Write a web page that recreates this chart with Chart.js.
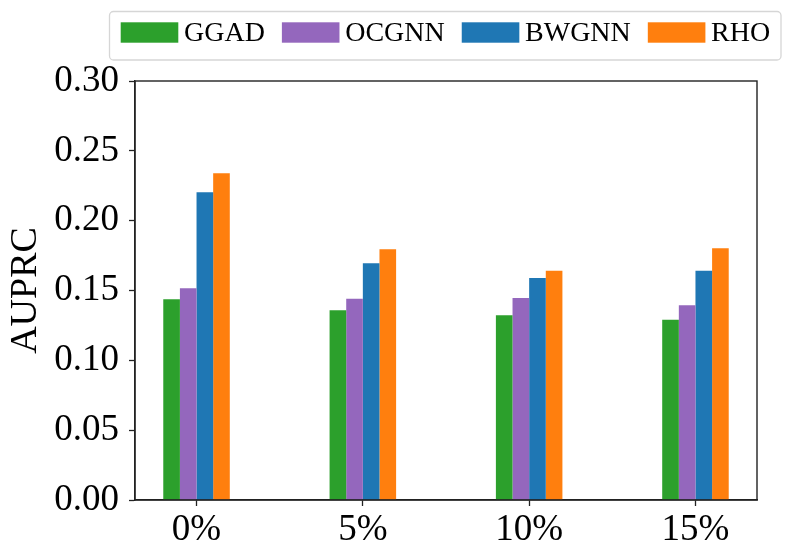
<!DOCTYPE html>
<html>
<head>
<meta charset="utf-8">
<script src="https://cdn.jsdelivr.net/npm/chart.js@4"></script>
<style>
  html, body { margin: 0; padding: 0; background: #fff; }
  #wrap { width: 794px; height: 559px; }
</style>
</head>
<body>
<div id="wrap"><canvas id="chart" width="794" height="559"></canvas></div>
<script>
const categories = ["0%", "5%", "10%", "15%"];
const ggad  = [0.1437, 0.1358, 0.1322, 0.1291];
const ocgnn = [0.1516, 0.1441, 0.1446, 0.1394];
const bwgnn = [0.2203, 0.1695, 0.1589, 0.1642];
const rho   = [0.2339, 0.1795, 0.1642, 0.1802];
const yTicks = [0, 0.05, 0.10, 0.15, 0.20, 0.25, 0.30];

const serif = "'Liberation Serif', 'Times New Roman', serif";

const series = [
  { label: "GGAD",  values: ggad,  color: "#2ca02c" },
  { label: "OCGNN", values: ocgnn, color: "#9467bd" },
  { label: "BWGNN", values: bwgnn, color: "#1f77b4" },
  { label: "RHO",   values: rho,   color: "#ff7f0e" },
];

// frame around the plot, like matplotlib spines
const frame = {
  id: "frame",
  afterDatasetsDraw(chart) {
    const { ctx, chartArea: a } = chart;
    ctx.save();
    ctx.strokeStyle = "#222";
    ctx.lineWidth = 1.4;
    ctx.strokeRect(a.left, a.top, a.right - a.left, a.bottom - a.top);
    ctx.restore();
  },
};

// boxed legend sitting above the plot
const boxLegend = {
  id: "boxLegend",
  afterDraw(chart) {
    const ctx = chart.ctx;
    ctx.save();
    ctx.strokeStyle = "#d6d6d6";
    ctx.lineWidth = 1.3;
    ctx.beginPath();
    ctx.roundRect(109.5, 11.5, 671.5, 48.5, 4);
    ctx.stroke();

    ctx.font = "28px " + serif;
    ctx.textBaseline = "middle";
    let x = 120.7;
    chart.data.datasets.forEach(ds => {
      ctx.fillStyle = ds.backgroundColor;
      ctx.fillRect(x, 22.3, 57.6, 20.4);
      x += 57.6 + 5.7;
      ctx.fillStyle = "#000";
      ctx.fillText(ds.label, x, 33.5);
      x += ctx.measureText(ds.label).width + 17;
    });
    ctx.restore();
  },
};

new Chart(document.getElementById("chart"), {
  type: "bar",
  data: {
    datasets: series.map(s => ({
      label: s.label,
      data: s.values.map((v, i) => ({ x: i, y: v })),
      backgroundColor: s.color,
      borderWidth: 0,
      categoryPercentage: 0.4,
      barPercentage: 1.0,
    })),
  },
  options: {
    responsive: false,
    animation: false,
    devicePixelRatio: 1,
    layout: { padding: { left: 0, top: 81, right: 37, bottom: 0 } },
    plugins: { legend: { display: false }, tooltip: { enabled: false } },
    scales: {
      x: {
        type: "linear",
        offset: false,
        min: -0.37,
        max: 3.37,
        afterBuildTicks: axis => { axis.ticks = categories.map((c, i) => ({ value: i })); },
        afterFit: axis => { axis.height = 59; },
        ticks: {
          callback: v => categories[v],
          font: { family: serif, size: 37 },
          color: "#000",
          padding: 2,
          maxRotation: 0,
        },
        grid: { offset: false, drawOnChartArea: false, drawTicks: true, tickLength: 6, tickColor: "#222", tickWidth: 1.3 },
        border: { display: true, color: "#222", width: 1.4 },
      },
      y: {
        min: 0,
        max: 0.3,
        afterBuildTicks: axis => { axis.ticks = yTicks.map(v => ({ value: v })); },
        afterFit: axis => { axis.width = 135; },
        ticks: {
          callback: v => v.toFixed(2),
          font: { family: serif, size: 37 },
          color: "#000",
          padding: 10,
        },
        grid: { drawOnChartArea: false, drawTicks: true, tickLength: 6, tickColor: "#222", tickWidth: 1.3 },
        border: { display: true, color: "#222", width: 1.4 },
        title: {
          display: true,
          text: "AUPRC",
          font: { family: serif, size: 38, lineHeight: 1.2 },
          color: "#000",
          padding: { top: 3, bottom: 0 },
        },
      },
    },
  },
  plugins: [frame, boxLegend],
});
</script>
</body>
</html>
